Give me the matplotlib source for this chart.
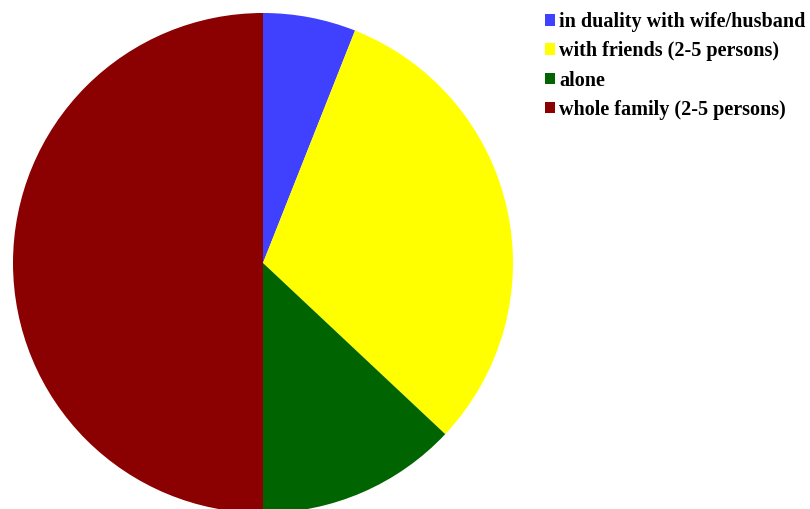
import matplotlib
matplotlib.use('Agg')
import matplotlib.pyplot as plt

labels = ['in duality with wife/husband', 'with friends (2-5 persons)', 'alone', 'whole family (2-5 persons)']
shares = [6, 31, 13, 50]
colors = ['#4040FF', '#FFFF00', '#006400', '#8B0000']

fig = plt.figure(figsize=(8.1, 5.09), dpi=100)
ax = fig.add_axes([13/810, -4/509, 500/810, 500/509])
wedges, _ = ax.pie(shares, colors=colors, startangle=90, counterclock=False,
                   radius=1.0, wedgeprops={'linewidth': 0})
ax.set_xlim(-1, 1)
ax.set_ylim(-1, 1)
ax.set_aspect('equal')
ax.axis('off')

leg = fig.legend(wedges, labels, loc='upper left', bbox_to_anchor=(545/810, 1 - 12/509),
                 frameon=False, handlelength=0.5, handleheight=0.5, handletextpad=0.2,
                 labelspacing=0.46, borderaxespad=0, borderpad=0,
                 prop={'family': 'Liberation Serif', 'weight': 'bold', 'size': 14.5})

fig.savefig('out.png', dpi=100)
